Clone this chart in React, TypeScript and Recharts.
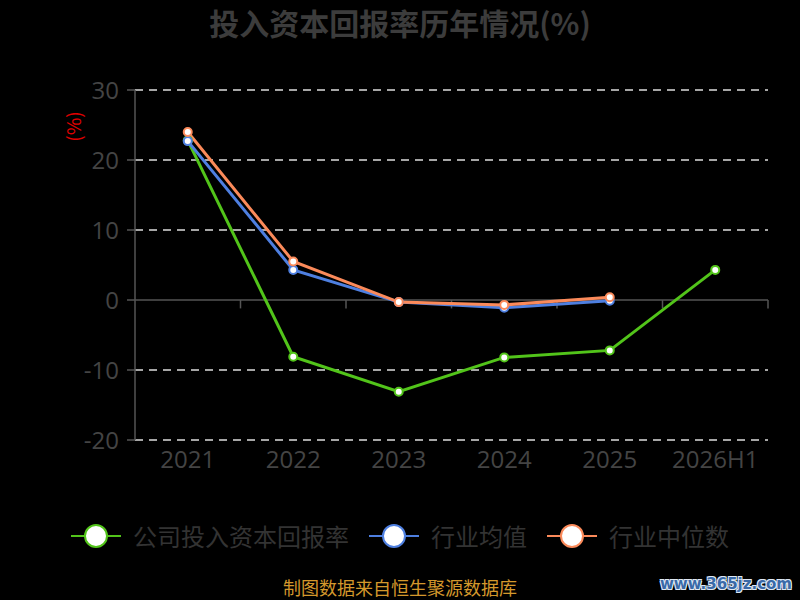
import { LineChart, Line, XAxis, YAxis, CartesianGrid, ReferenceLine, Legend } from "recharts";

const years = ["2021", "2022", "2023", "2024", "2025", "2026H1"];
const companyRoic = [22.8, -8.1, -13.1, -8.2, -7.2, 4.3];
const industryMean = [22.7, 4.3, -0.3, -1.1, -0.1, null];
const industryMedian = [24.0, 5.5, -0.3, -0.7, 0.4, null];
const yTicks = [-20, -10, 0, 10, 20, 30];

const seriesInfo = [
  { key: "company", name: "公司投入资本回报率", color: "#52c41a" },
  { key: "mean", name: "行业均值", color: "#4e7fe0" },
  { key: "median", name: "行业中位数", color: "#fb8a5a" },
];

const rows = years.map((y, i) => ({
  idx: i,
  company: companyRoic[i],
  mean: industryMean[i],
  median: industryMedian[i],
}));

const boundaries = years.map((_, i) => i + 0.5);

const CJK = '"Noto Sans CJK SC", "Noto Sans", sans-serif';

const LegendContent = () => (
  <div style={{ display: "flex", justifyContent: "center", alignItems: "center", fontFamily: CJK }}>
    {seriesInfo.map((s) => (
      <div key={s.key} style={{ display: "flex", alignItems: "center", margin: "0 10px" }}>
        <svg width={50} height={28}>
          <line x1={0} y1={14} x2={50} y2={14} stroke={s.color} strokeWidth={2} />
          <circle cx={25} cy={14} r={11} fill="#fff" stroke={s.color} strokeWidth={2} />
        </svg>
        <span style={{ marginLeft: 12, fontSize: 24, color: "#333" }}>{s.name}</span>
      </div>
    ))}
  </div>
);

export default function App() {
  return (
    <div style={{ position: "fixed", left: 0, top: 0, width: 800, height: 600, background: "#000", overflow: "hidden" }}>
      <div style={{ position: "absolute", top: 0, width: 800, textAlign: "center", fontFamily: CJK, fontWeight: 700, fontSize: 30, color: "#3c3c3c" }}>
        投入资本回报率历年情况(%)
      </div>
      <div style={{ position: "absolute", left: 57, top: 113, transform: "rotate(-90deg)", transformOrigin: "center", fontFamily: CJK, fontSize: 19, color: "#e00000" }}>
        (%)
      </div>
      <LineChart width={800} height={600} data={rows} margin={{ top: 90, right: 32, bottom: 130, left: 0 }}>
        <CartesianGrid vertical={false} horizontalValues={[-20, -10, 10, 20, 30]} stroke="#ddd" strokeWidth={1.5} strokeDasharray="8 6" />
        <XAxis
          type="number"
          dataKey="idx"
          domain={[-0.5, 5.5]}
          ticks={years.map((_, i) => i)}
          tickFormatter={(v: number) => years[v]}
          axisLine={false}
          tickLine={false}
          tickSize={0}
          tickMargin={11}
          height={30}
          tick={{ fill: "#444", fontSize: 24, fontFamily: "Open Sans" }}
        />
        <YAxis
          domain={[-20, 30]}
          ticks={yTicks}
          width={135}
          tickSize={8}
          tickMargin={8}
          axisLine={{ stroke: "#555", strokeWidth: 1.5 }}
          tickLine={{ stroke: "#555", strokeWidth: 1.5 }}
          tick={{ fill: "#444", fontSize: 24, fontFamily: "Open Sans" }}
        />
        <ReferenceLine y={0} stroke="#555" strokeWidth={1.5} />
        {boundaries.map((b) => (
          <ReferenceLine key={b} segment={[{ x: b, y: 0 }, { x: b, y: -1.2 }]} stroke="#555" strokeWidth={1.5} />
        ))}
        <Legend layout="horizontal" verticalAlign="middle" wrapperStyle={{ top: 518, left: 0, width: 800 }} content={<LegendContent />} />
        {seriesInfo.map((s) => (
          <Line
            key={s.key}
            type="linear"
            dataKey={s.key}
            name={s.name}
            stroke={s.color}
            strokeWidth={3}
            dot={{ r: 4, fill: "#fff", stroke: s.color, strokeWidth: 2 }}
            isAnimationActive={false}
          />
        ))}
      </LineChart>
      <div style={{ position: "absolute", top: 575, width: 800, textAlign: "center", fontFamily: CJK, fontSize: 18, lineHeight: "24px", color: "#d4982c" }}>
        制图数据来自恒生聚源数据库
      </div>
      <div
        style={{
          position: "absolute",
          right: 8,
          top: 574,
          fontFamily: "DejaVu Sans",
          fontWeight: 700,
          fontSize: 15,
          lineHeight: "20px",
          color: "#3a6aa8",
          textShadow: "1px 1px 0 #dfe8f5, -1px -1px 0 #dfe8f5, 1px -1px 0 #dfe8f5, -1px 1px 0 #dfe8f5",
        }}
      >
        www.365jz.com
      </div>
    </div>
  );
}
